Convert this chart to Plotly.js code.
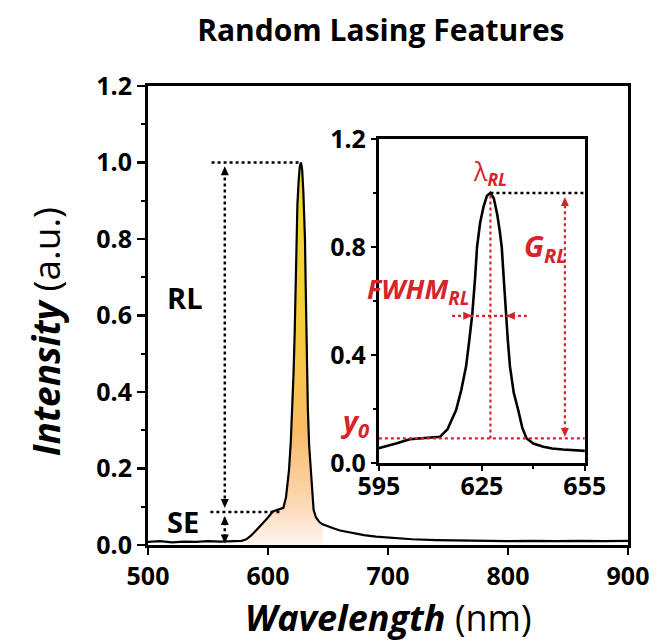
<!DOCTYPE html>
<html>
<head>
<meta charset="utf-8">
<script src="https://cdn.plot.ly/plotly-3.0.1.min.js"></script>
<style>html,body{margin:0;padding:0;background:#fff;}#chart{width:667px;height:642px;}</style>
</head>
<body>
<div id="chart"></div>
<script>
// Emission spectrum (normalised intensity vs wavelength)
const wavelength = [500,510,520,530,540,550,560,570,578,582,586,590,595,600,604,608,612.8,615,617.5,619,620.4,621.3,622.2,623,623.6,624.5,625.5,626.5,627.5,628.5,629.5,630.2,630.8,631.4,632,632.6,633.2,634.3,635.6,636.8,638,640,642.9,645.5,648.6,652,655,660,670,680,690,700,720,740,760,780,800,820,840,860,880,900];
const intensity  = [0.008,0.010,0.007,0.009,0.008,0.010,0.009,0.010,0.011,0.015,0.025,0.038,0.054,0.072,0.088,0.093,0.097,0.125,0.196,0.27,0.357,0.45,0.55,0.68,0.80,0.89,0.95,0.99,1.0,0.98,0.92,0.86,0.80,0.68,0.555,0.45,0.357,0.26,0.196,0.13,0.092,0.072,0.06,0.054,0.05,0.046,0.043,0.038,0.031,0.026,0.022,0.019,0.015,0.013,0.012,0.011,0.010,0.011,0.010,0.011,0.010,0.011];

// Feature values
const peakWl = 627.5;      // lambda_RL
const peakI = 1.0;
const seLevel = 0.086;     // spontaneous-emission shoulder
const y0Level = 0.091;     // baseline y0 in inset
const fwhmLevel = 0.545;
const fwhmLeft = 622.2, fwhmRight = 632.0;

const mainXTicks = [500,600,700,800,900];
const insetXTicks = [595,625,655];
const insetYTicks = [0.0,0.4,0.8,1.2];

const RED = 'rgb(214,36,44)';
const FONT = 'Open Sans, sans-serif';

// fill region around the emission band
const fillX = [], fillY = [];
wavelength.forEach((w,i)=>{ if (w>=580 && w<=645.5){ fillX.push(w); fillY.push(intensity[i]); } });

const traces = [
  {x: fillX, y: fillY, xaxis:'x', yaxis:'y', type:'scatter', mode:'none', fill:'tozeroy',
   fillgradient:{type:'vertical', start:0, stop:1,
     colorscale:[[0,'#fff6f0'],[0.1,'#fcd9b8'],[0.3,'#f9bc68'],[0.55,'#f6cb3e'],[1,'#f1dc2c']]},
   hoverinfo:'skip', showlegend:false},
  {x: wavelength, y: intensity, xaxis:'x', yaxis:'y', type:'scatter', mode:'lines',
   line:{color:'#000', width:2.2}, showlegend:false},
  {x: wavelength, y: intensity, xaxis:'x2', yaxis:'y2', type:'scatter', mode:'lines',
   line:{color:'#000', width:2.6}, showlegend:false}
];

const tickFont = {family: FONT, size: 25, color:'#000', weight: 'bold'};
const axisCommon = {showgrid:false, zeroline:false, showline:true, linecolor:'#000',
  ticks:'outside', tickcolor:'#000', tickfont: tickFont};

// small triangular arrow heads, sized in pixels, anchored at their tip
function head(xr, yr, x, y, dir, color){
  const p = {up:'M0,0 L-4,-9 L4,-9 Z', down:'M0,0 L-4,9 L4,9 Z',
             left:'M0,0 L9,-4 L9,4 Z', right:'M0,0 L-9,-4 L-9,4 Z'}[dir];
  return {type:'path', xref:xr, yref:yr, xsizemode:'pixel', ysizemode:'pixel',
          xanchor:x, yanchor:y, path:p, fillcolor:color, line:{width:0}};
}

const shapes = [
  // main figure: RL / SE guide lines
  {type:'line', xref:'x', yref:'y', x0:553, x1:peakWl, y0:peakI, y1:peakI, line:{color:'#000', width:2.5, dash:'dot'}},
  {type:'line', xref:'x', yref:'y', x0:552, x1:612, y0:seLevel, y1:seLevel, line:{color:'#000', width:2.5, dash:'dot'}},
  {type:'line', xref:'x', yref:'y', x0:564, x1:564, y0:seLevel+0.02, y1:peakI-0.02, line:{color:'#000', width:2.5, dash:'dot'}},
  {type:'line', xref:'x', yref:'y', x0:564, x1:564, y0:0.02, y1:seLevel-0.015, line:{color:'#000', width:2.5, dash:'dot'}},
  head('x','y',564,0.99,'up','#000'),
  head('x','y',564,0.097,'down','#000'),
  head('x','y',564,0.076,'up','#000'),
  head('x','y',564,0.004,'down','#000'),
  // inset guide lines
  {type:'line', xref:'x2', yref:'y2', x0:peakWl, x1:655, y0:peakI, y1:peakI, line:{color:'#000', width:2.5, dash:'dot'}},
  {type:'line', xref:'x2', yref:'y2', x0:595, x1:655, y0:y0Level, y1:y0Level, line:{color:RED, width:2.2, dash:'dot'}},
  {type:'line', xref:'x2', yref:'y2', x0:peakWl, x1:peakWl, y0:y0Level, y1:peakI, line:{color:RED, width:2.2, dash:'dot'}},
  {type:'line', xref:'x2', yref:'y2', x0:649.2, x1:649.2, y0:y0Level+0.03, y1:peakI-0.04, line:{color:RED, width:2.2, dash:'dot'}},
  {type:'line', xref:'x2', yref:'y2', x0:616.3, x1:638.1, y0:fwhmLevel, y1:fwhmLevel, line:{color:RED, width:2.2, dash:'dot'}},
  head('x2','y2',649.2,0.985,'up',RED),
  head('x2','y2',649.2,0.096,'down',RED),
  head('x2','y2',fwhmLeft,fwhmLevel,'right',RED),
  head('x2','y2',fwhmRight,fwhmLevel,'left',RED)
];

const annotations = [
  {xref:'x', yref:'y', x:531, y:0.646, text:'RL', showarrow:false,
   font:{family:FONT, size:29, color:'#000', weight:'bold'}},
  {xref:'x', yref:'y', x:529, y:0.062, text:'SE', showarrow:false,
   font:{family:FONT, size:29, color:'#000', weight:'bold'}},
  {xref:'x2', yref:'y2', x:peakWl, y:1.075, text:'λ<sub><b><i>RL</i></b></sub>', showarrow:false,
   font:{family:FONT, size:25, color:RED}},
  {xref:'x2', yref:'y2', x:643.6, y:0.80, text:'<b><i>G</i></b><sub><b><i>RL</i></b></sub>', showarrow:false,
   font:{family:FONT, size:29, color:RED}},
  {xref:'x2', yref:'y2', x:606.4, y:0.64, text:'<b><i>FWHM</i></b><sub><b><i>RL</i></b></sub>', showarrow:false,
   font:{family:FONT, size:27, color:RED}},
  {xref:'paper', yref:'paper', x:0.431, y:0.215, text:'<b><i>y</i></b><sub><b><i>0</i></b></sub>', showarrow:false,
   font:{family:FONT, size:29, color:RED}},
  // axis titles
  {xref:'paper', yref:'paper', x:0.5, y:-0.159, xanchor:'center', yanchor:'middle',
   text:'<b><i>Wavelength</i></b> (nm)', showarrow:false, font:{family:FONT, size:36, color:'#000'}},
  {xref:'paper', yref:'paper', x:-0.214, y:0.464, xanchor:'center', yanchor:'middle', textangle:-90,
   text:'<b><i>Intensity</i></b> (a.u.)', showarrow:false, font:{family:FONT, size:37, color:'#000'}}
];

const layout = {
  width:667, height:642,
  margin:{l:148, r:39, t:86, b:97},
  paper_bgcolor:'#fff', plot_bgcolor:'#fff',
  showlegend:false,
  title:{text:'<b>Random Lasing Features</b>', xref:'container', yref:'container', x:0.571, y:0.953,
         xanchor:'center', yanchor:'middle', font:{family:FONT, size:30, color:'#000'}},
  xaxis: Object.assign({}, axisCommon, {domain:[0,1], range:[500,900], tickvals:mainXTicks,
    linewidth:3, mirror:true, ticklen:7, tickwidth:2.5}),
  yaxis: Object.assign({}, axisCommon, {domain:[0,1], range:[0,1.2], dtick:0.2, tickformat:'.1f',
    linewidth:3, mirror:true, ticklen:8, tickwidth:2.5,
    minor:{dtick:0.1, ticks:'outside', ticklen:4, tickwidth:2, tickcolor:'#000'}}),
  xaxis2: Object.assign({}, axisCommon, {domain:[0.481,0.910], range:[595,655], tickvals:insetXTicks,
    anchor:'y2', linewidth:3, mirror:true, ticklen:5, tickwidth:2.5, ticklabelstandoff:-6,
    minor:{tickvals:[610,640], ticks:'outside', ticklen:3, tickwidth:2, tickcolor:'#000'}}),
  yaxis2: Object.assign({}, axisCommon, {domain:[0.1786,0.8845], range:[0,1.2], tickvals:insetYTicks, tickformat:'.1f',
    anchor:'x2', linewidth:3, mirror:true, ticklen:5, tickwidth:2.5,
    minor:{tickvals:[0.2,0.6,1.0], ticks:'outside', ticklen:3, tickwidth:2, tickcolor:'#000'}}),
  shapes: shapes,
  annotations: annotations
};

Plotly.newPlot('chart', traces, layout, {displayModeBar:false, staticPlot:true});
</script>
</body>
</html>
